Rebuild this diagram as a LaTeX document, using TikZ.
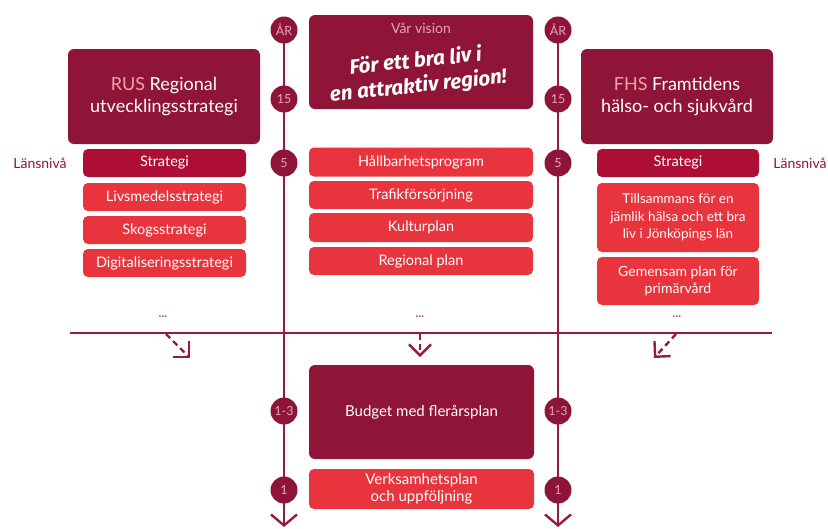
\documentclass[tikz,border=0pt]{standalone}
\usepackage{fontspec}
\setmainfont{Lato}
\newfontfamily\handfont{Fira Sans}
\usetikzlibrary{arrows.meta}
\definecolor{maroon}{HTML}{8E1538}
\definecolor{crim}{HTML}{AE0E36}
\definecolor{bred}{HTML}{E7343D}
\definecolor{salmon}{HTML}{F4A3A3}
\definecolor{circtxt}{HTML}{E8A5B6}
\definecolor{linecol}{HTML}{961A42}
\begin{document}
\begin{tikzpicture}[x=1pt,y=-1pt,
  bigbox/.style={fill=maroon, rounded corners=6pt, text=white, align=center, inner sep=0pt,
    font=\fontsize{18}{22}\selectfont},
  crimbox/.style={fill=crim, rounded corners=5pt, text=white, align=center, inner sep=0pt,
    font=\fontsize{14.5}{17}\selectfont},
  redbox/.style={fill=bred, rounded corners=5pt, text=white, align=center, inner sep=0pt,
    font=\fontsize{14.5}{17}\selectfont},
  yearcirc/.style={circle, fill=maroon, minimum size=27pt, inner sep=0pt, text=circtxt,
    font=\fontsize{12.5}{14}\selectfont},
  axis/.style={draw=linecol, line width=2.4pt},
  dasharrow/.style={draw=linecol, line width=2.4pt, dash pattern=on 6pt off 4pt,
    -{Straight Barb[length=11pt,width=22pt,line width=2.4pt]}},
  leveltxt/.style={text=maroon, font=\fontsize{14}{16}\selectfont},
  dots/.style={text=maroon!75, font=\bfseries\fontsize{12}{14}\selectfont}
]
\useasboundingbox (0,0) rectangle (828,528);

% axes
\coordinate (hl) at (70,333);
\coordinate (hr) at (772,333);
\draw[axis] (hl) -- (hr);
\coordinate (lt) at (284,30);
\coordinate (lb) at (284,527);
\coordinate (rt) at (558,30);
\coordinate (rb) at (558,527);
\draw[axis, -{Straight Barb[length=11pt,width=26pt,line width=2.4pt]}] (lt) -- (lb);
\draw[axis, -{Straight Barb[length=11pt,width=26pt,line width=2.4pt]}] (rt) -- (rb);

% year circles
\foreach \side/\x in {L/284,R/558}{
  \node[yearcirc] (ar\side) at (\x,30) {ÅR};
  \node[yearcirc] (y15\side) at (\x,99) {15};
  \node[yearcirc] (y5\side) at (\x,163) {5};
  \node[yearcirc] (y13\side) at (\x,411) {1-3};
  \node[yearcirc] (y1\side) at (\x,490) {1};
}

% left column
\node[bigbox, minimum width=192pt, minimum height=95pt] (rus) at (164,96.5)
  {\textcolor{salmon}{RUS} Regional\\utvecklingsstrategi};
\node[crimbox, minimum width=163pt, minimum height=28pt] (lstrat) at (164.5,163) {Strategi};
\node[redbox, minimum width=163pt, minimum height=28pt] (livs) at (164.5,197) {Livsmedelsstrategi};
\node[redbox, minimum width=163pt, minimum height=28pt] (skog) at (164.5,230) {Skogsstrategi};
\node[redbox, minimum width=163pt, minimum height=28pt] (digi) at (164.5,263) {Digitaliseringsstrategi};
\node[leveltxt] (lanL) at (40,163) {Länsnivå};
\node[dots] (dotsL) at (163,317) {...};

% center column
\node[bigbox, minimum width=224pt, minimum height=94pt] (vision) at (421,62) {};
\node[text=circtxt, font=\fontsize{14}{16}\selectfont] (vtitle) at (421,28) {Vår vision};
\node[text=white, align=center, rotate=6, inner sep=0pt,
  font=\handfont\bfseries\itshape\fontsize{20.5}{25}\selectfont] (vtext) at (417,74)
  {För ett bra liv i\\en attraktiv region!};
\node[redbox, minimum width=224pt, minimum height=29pt] (hall) at (421,162) {Hållbarhetsprogram};
\node[redbox, minimum width=224pt, minimum height=28pt] (trafik) at (421,195) {Trafikförsörjning};
\node[redbox, minimum width=224pt, minimum height=29pt] (kultur) at (421,227.5) {Kulturplan};
\node[redbox, minimum width=224pt, minimum height=28pt] (regplan) at (421,261) {Regional plan};
\node[dots] (dotsC) at (420,317) {...};
\node[bigbox, minimum width=225pt, minimum height=94pt, font=\fontsize{15}{18}\selectfont] (budget) at (421.5,412) {Budget med flerårsplan};
\node[redbox, minimum width=225pt, minimum height=40pt, font=\fontsize{15}{17}\selectfont] (verks) at (421.5,489) {Verksamhetsplan\\och uppföljning};

% right column
\node[bigbox, minimum width=192pt, minimum height=95pt] (fhs) at (677,96.5)
  {\textcolor{salmon}{FHS} Framtidens\\hälso- och sjukvård};
\node[crimbox, minimum width=162pt, minimum height=28pt] (rstrat) at (678,163) {Strategi};
\node[redbox, minimum width=162pt, minimum height=69pt, font=\fontsize{13.5}{17.5}\selectfont] (till) at (678,217.5)
  {Tillsammans för en\\jämlik hälsa och ett bra\\liv i Jönköpings län};
\node[redbox, minimum width=162pt, minimum height=48pt, font=\fontsize{14}{17.5}\selectfont] (gem) at (678,281)
  {Gemensam plan för\\primärvård};
\node[leveltxt] (lanR) at (800,163) {Länsnivå};
\node[dots] (dotsR) at (677,317) {...};

% dashed arrows
\coordinate (aLs) at (166,334);
\coordinate (aLe) at (190,358);
\coordinate (aCs) at (420,334);
\coordinate (aCe) at (420,357);
\coordinate (aRs) at (676,334);
\coordinate (aRe) at (654,358);
\draw[dasharrow] (aLs) -- (aLe);
\draw[dasharrow] (aCs) -- (aCe);
\draw[dasharrow] (aRs) -- (aRe);
\end{tikzpicture}
\end{document}
